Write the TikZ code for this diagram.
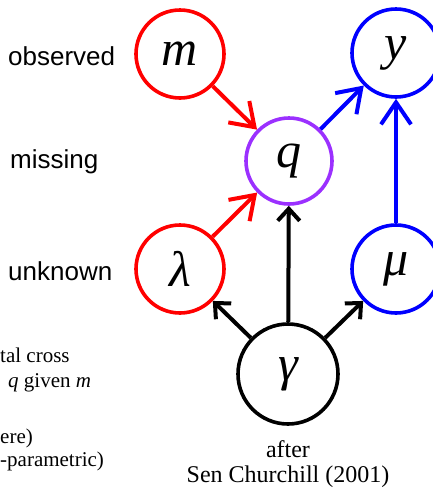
\documentclass[tikz,border=0pt]{standalone}
\usepackage{fontspec}
\setmainfont{Liberation Serif}
\newfontfamily\labsans{Liberation Sans}
\usetikzlibrary{arrows.meta}
\definecolor{qpurple}{RGB}{155,48,255}
\begin{document}
\begin{tikzpicture}[x=1pt,y=-1pt,
  var/.style={circle,draw,line width=3.6pt,minimum size=#1,inner sep=0pt,font=\fontsize{50}{54}\selectfont\itshape},
  var/.default=88pt,
  bigarrow/.style={line width=4pt,-{Straight Barb[length=22pt,width=30pt,line width=4pt]}},
  smallarrow/.style={line width=4pt,-{Straight Barb[length=12pt,width=22pt,line width=4pt]}},
  sidelab/.style={anchor=base west,inner sep=0pt,font=\labsans\fontsize{26}{30}\selectfont},
  notelab/.style={anchor=base west,inner sep=0pt,font=\fontsize{21}{24}\selectfont},
  caplab/.style={anchor=base,inner sep=0pt,font=\fontsize{24}{27}\selectfont}]
\useasboundingbox (0,0) rectangle (433,493);
\node[var,draw=red] (m) at (180,54) {m};
\node[var,draw=blue] (y) at (396,53) {y};
\node[var=86pt,draw=qpurple] (q) at (289,161) {q};
\node[var,draw=red] (l) at (180,269) {λ};
\node[var,draw=blue] (mu) at (396,269) {μ};
\node[var=100pt,draw=black] (g) at (288,374) {γ};
\draw[bigarrow,red] (m) -- (q);
\draw[bigarrow,red] (l) -- (q);
\draw[bigarrow,blue] (q) -- (y);
\draw[bigarrow,blue] (mu) -- (y);
\draw[smallarrow] (g) -- (l);
\draw[smallarrow] (g) -- (q);
\draw[smallarrow] (g) -- (mu);
\node[sidelab] (t1) at (8,65) {observed};
\node[sidelab] (t2) at (10,168) {missing};
\node[sidelab] (t3) at (8,280) {unknown};
\node[notelab] (n1) at (0,362) {tal cross};
\node[notelab] (n2) at (8,387) {\textit{q} given \textit{m}};
\node[notelab] (n3) at (0,443) {ere)};
\node[notelab] (n4) at (0,466) {-parametric)};
\node[caplab] (c1) at (288,457) {after};
\node[caplab] (c2) at (288,482) {Sen Churchill (2001)};
\end{tikzpicture}
\end{document}
